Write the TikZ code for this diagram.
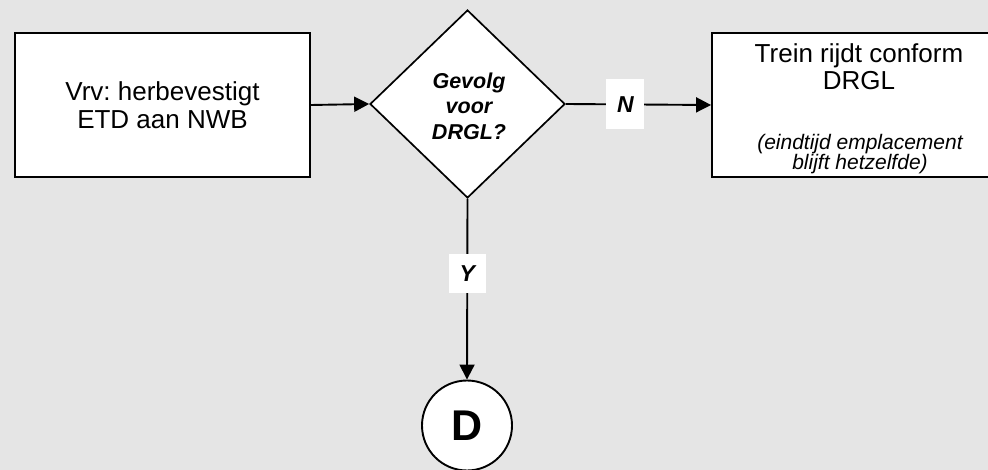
\documentclass[tikz,border=0pt]{standalone}
\usepackage{fontspec}
\setmainfont{Liberation Sans}
\frenchspacing
\usetikzlibrary{shapes.geometric,arrows.meta}
\definecolor{bgc}{RGB}{229,229,229}
\tikzset{
  box/.style={draw=black, fill=white, line width=1.9pt, inner sep=0pt},
  dec/.style={draw=black, fill=white, line width=1.7pt, diamond, inner sep=0pt,
    minimum width=195pt, minimum height=188pt},
  dectext/.style={align=center, font=\fontsize{21.5}{25.5}\selectfont\bfseries\itshape},
  conn/.style={draw=black, line width=1.9pt, -{Triangle[length=15pt,width=15pt]}},
  lbl/.style={fill=white, inner sep=0pt, font=\fontsize{23}{25}\selectfont\bfseries\itshape},
  main/.style={align=center, font=\fontsize{26}{28}\selectfont},
  note/.style={align=center, font=\fontsize{21}{21}\selectfont\itshape},
}
\begin{document}
\begin{tikzpicture}[x=1pt,y=-1pt]
\useasboundingbox[fill=bgc] (0,0) rectangle (988,470);
\node[box, main, minimum width=295pt, minimum height=144pt] (lb) at (162.5,105)
  {Vrv: herbevestigt\\ETD aan NWB};
\node[dec] (d) at (467.5,104) {};
\node[dectext] (dt) at (469,106) {Gevolg\\voor\\DRGL?};
\node[box, minimum width=278pt, minimum height=144pt] (rb) at (851,105) {};
\node[main, anchor=base] (rt1) at (859,63) {Trein rijdt conform};
\node[main, anchor=base] (rt2) at (859,90) {DRGL};
\node[note, anchor=base] (rn1) at (860,150) {(eindtijd emplacement};
\node[note, anchor=base] (rn2) at (860,170) {blijft hetzelfde)};
\node[draw=black, fill=white, line width=1.9pt, circle, minimum size=90pt, inner sep=0pt,
  font=\fontsize{43}{45}\selectfont\bfseries] (dc) at (467,425.5) {D};
\draw[conn] (lb.east) -- (d.west);
\draw[conn] (d.east) -- node[lbl, pos=0.41, minimum width=38pt, minimum height=50pt] (n) {N} (rb.west);
\draw[conn] (d.south) -- node[lbl, pos=0.415, minimum width=37pt, minimum height=39pt] (y) {Y} (dc.north);
\end{tikzpicture}
\end{document}
